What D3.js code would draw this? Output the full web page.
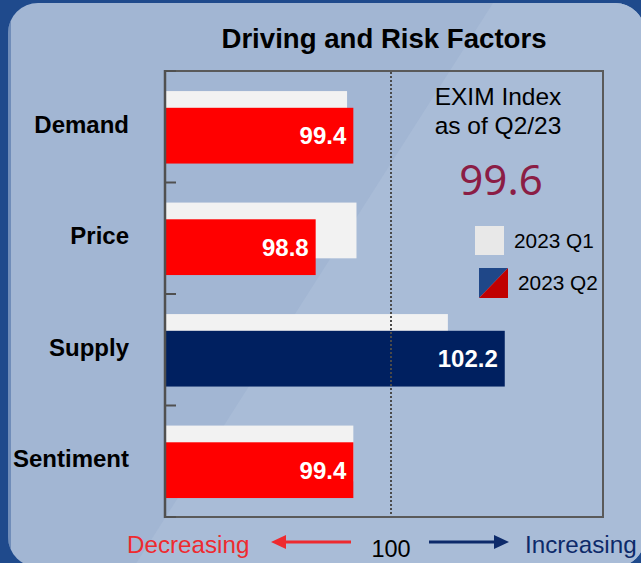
<!DOCTYPE html>
<html>
<head>
<meta charset="utf-8">
<script src="https://cdn.jsdelivr.net/npm/d3@7"></script>
<style>
  html, body { margin: 0; padding: 0; background: #1f4a8c; }
  svg { display: block; }
</style>
</head>
<body>
<div id="chart"></div>
<script>
// ---- data ----
const categories = ["Demand", "Price", "Supply", "Sentiment"];
const q1Values = [99.3, 99.45, 101.1, 99.4];   // 2023 Q1
const q2Values = [99.4, 98.8, 102.2, 99.4];    // 2023 Q2
const seriesNames = ["2023 Q1", "2023 Q2"];
const baseline = 100;
const indexValue = 99.6;
const titleText = "Driving and Risk Factors";
const indexTitle = ["EXIM Index", "as of Q2/23"];
const dirLabels = ["Decreasing", "Increasing"];

// ---- layout ----
const W = 641, H = 563;
const plot = { left: 165, right: 603, top: 71, bottom: 517 };

const svg = d3.select("#chart").append("svg")
  .attr("width", W).attr("height", H);

// background
svg.append("rect").attr("width", W).attr("height", H).attr("fill", "#1f4a8c");
const defs = svg.append("defs");
defs.append("clipPath").attr("id", "panelClip")
  .append("rect").attr("x", 8).attr("y", 3).attr("width", 637).attr("height", 564).attr("rx", 30);
const panel = svg.append("g").attr("clip-path", "url(#panelClip)");
panel.append("rect").attr("x", 8).attr("y", 3).attr("width", 637).attr("height", 564).attr("fill", "#a2b6d3");
panel.append("path").attr("d", "M495,0 L660,0 L660,570 L132,570 Z").attr("fill", "#a9bcd7");
panel.append("rect").attr("x", 8).attr("y", 3).attr("width", 3).attr("height", 564).attr("fill", "#3d63a0").attr("opacity", 0.5);

// ---- scales ----
const x = d3.scaleLinear()
  .domain([96.4, baseline, 104.1])
  .range([plot.left, 391, plot.right]);
const y = d3.scaleBand()
  .domain(categories)
  .range([plot.top, plot.bottom])
  .padding(0);
const bw = y.bandwidth();
const barH = bw * 0.5;
const q1Off = bw * 0.18;
const q2Off = bw * 0.33;

const data = categories.map((c, i) => ({ cat: c, q1: q1Values[i], q2: q2Values[i] }));

// plot box
svg.append("rect")
  .attr("x", plot.left).attr("y", plot.top)
  .attr("width", plot.right - plot.left).attr("height", plot.bottom - plot.top)
  .attr("fill", "none").attr("stroke", "#5a5a5a").attr("stroke-width", 2);

// Q1 bars
svg.append("g").selectAll("rect").data(data).join("rect")
  .attr("x", x.range()[0])
  .attr("y", d => y(d.cat) + q1Off)
  .attr("width", d => x(d.q1) - x.range()[0])
  .attr("height", barH)
  .attr("fill", "#f2f2f2");

// Q2 bars
svg.append("g").selectAll("rect").data(data).join("rect")
  .attr("x", x.range()[0])
  .attr("y", d => y(d.cat) + q2Off)
  .attr("width", d => x(d.q2) - x.range()[0])
  .attr("height", barH)
  .attr("fill", d => d.q2 >= baseline ? "#002060" : "#ff0000");

// value labels
svg.append("g").selectAll("text").data(data).join("text")
  .attr("x", d => x(d.q2) - 7)
  .attr("y", d => y(d.cat) + q2Off + barH / 2 + 8.5)
  .attr("text-anchor", "end")
  .attr("font-family", "Liberation Sans, Arial, sans-serif")
  .attr("font-weight", "bold")
  .attr("font-size", 24)
  .attr("fill", "#ffffff")
  .text(d => d3.format(".1f")(d.q2));

// dotted baseline
svg.append("line")
  .attr("x1", x(baseline)).attr("x2", x(baseline))
  .attr("y1", plot.top + 1).attr("y2", plot.bottom - 1)
  .attr("stroke", "#4a4a4a").attr("stroke-width", 2)
  .attr("stroke-dasharray", "2,2");

// left axis with inward ticks at band boundaries
const tickVals = categories.map(c => y(c)).concat([plot.bottom]);
const axisG = svg.append("g");
axisG.append("line")
  .attr("x1", plot.left).attr("x2", plot.left)
  .attr("y1", plot.top - 1).attr("y2", plot.bottom + 1)
  .attr("stroke", "#505050").attr("stroke-width", 2.5);
axisG.selectAll("line.tick").data(tickVals).join("line")
  .attr("class", "tick")
  .attr("x1", plot.left).attr("x2", plot.left + 11)
  .attr("y1", d => d).attr("y2", d => d)
  .attr("stroke", "#505050").attr("stroke-width", 2);

// category labels
svg.append("g").selectAll("text").data(categories).join("text")
  .attr("x", 129)
  .attr("y", d => y(d) + bw / 2 + 6)
  .attr("text-anchor", "end")
  .attr("font-family", "Liberation Sans, Arial, sans-serif")
  .attr("font-weight", "bold")
  .attr("font-size", 24)
  .attr("fill", "#000")
  .text(d => d);

// title
svg.append("text")
  .attr("x", 384).attr("y", 48)
  .attr("text-anchor", "middle")
  .attr("font-family", "Liberation Sans, Arial, sans-serif")
  .attr("font-weight", "bold")
  .attr("font-size", 27.6)
  .attr("fill", "#000")
  .text(titleText);

// EXIM index block
svg.append("g").selectAll("text").data(indexTitle).join("text")
  .attr("x", 498)
  .attr("y", (d, i) => 105 + i * 29)
  .attr("text-anchor", "middle")
  .attr("font-family", "Liberation Sans, Arial, sans-serif")
  .attr("font-size", 24.5)
  .attr("fill", "#000")
  .text(d => d);
svg.append("text")
  .attr("x", 501).attr("y", 195)
  .attr("text-anchor", "middle")
  .attr("font-family", "Noto Sans, Open Sans, sans-serif")
  .attr("font-size", 42)
  .attr("fill", "#8b1d45")
  .text(d3.format(".1f")(indexValue));

// legend
const lg = svg.append("g");
lg.append("rect").attr("x", 475).attr("y", 226).attr("width", 29).attr("height", 29).attr("fill", "#e8e8e8");
lg.append("path").attr("d", "M479,268 L508,268 L479,298 Z").attr("fill", "#1f4788");
lg.append("path").attr("d", "M508,268 L508,298 L479,298 Z").attr("fill", "#c00000");
lg.selectAll("text").data(seriesNames).join("text")
  .attr("x", (d, i) => i === 0 ? 514 : 518)
  .attr("y", (d, i) => i === 0 ? 248 : 290)
  .attr("font-family", "Liberation Sans, Arial, sans-serif")
  .attr("font-size", 20.8)
  .attr("fill", "#000")
  .text(d => d);

// bottom direction indicator
const cx = x(baseline);
svg.append("text")
  .attr("x", cx).attr("y", 557)
  .attr("text-anchor", "middle")
  .attr("font-family", "Liberation Sans, Arial, sans-serif")
  .attr("font-size", 23.5)
  .attr("fill", "#000")
  .text(d3.format("d")(baseline));
svg.append("text")
  .attr("x", 127).attr("y", 553)
  .attr("font-family", "Liberation Sans, Arial, sans-serif")
  .attr("font-size", 24.2)
  .attr("fill", "#ee2a2f")
  .text(dirLabels[0]);
svg.append("text")
  .attr("x", 525).attr("y", 553)
  .attr("font-family", "Liberation Sans, Arial, sans-serif")
  .attr("font-size", 24.2)
  .attr("fill", "#0d2a6a")
  .text(dirLabels[1]);

function arrow(x1, x2, yy, color) {
  const dir = Math.sign(x2 - x1);
  const headLen = 15, headHalf = 7;
  svg.append("line")
    .attr("x1", x1).attr("x2", x2 - dir * headLen + dir)
    .attr("y1", yy).attr("y2", yy)
    .attr("stroke", color).attr("stroke-width", 3);
  svg.append("path")
    .attr("d", `M${x2},${yy} L${x2 - dir * headLen},${yy - headHalf} L${x2 - dir * headLen},${yy + headHalf} Z`)
    .attr("fill", color);
}
arrow(cx - 40, cx - 120, 542, "#ee2a2f");
arrow(cx + 38, cx + 118, 542, "#0d2a6a");
</script>
</body>
</html>
